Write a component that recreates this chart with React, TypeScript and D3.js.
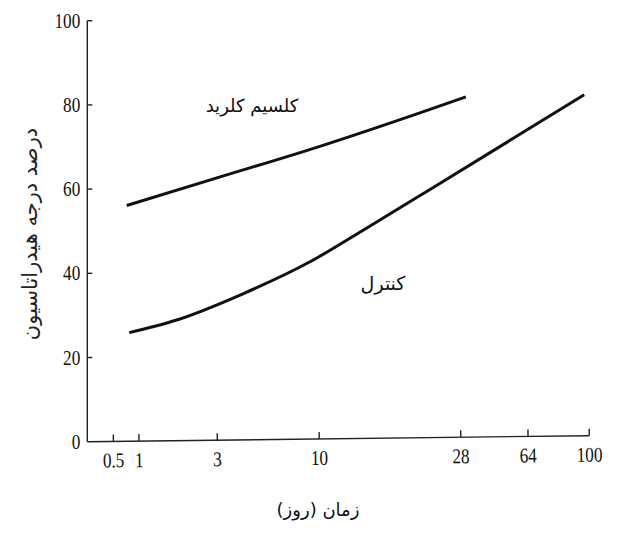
import React from "react";
import * as d3 from "d3";

// tick labels of the (irregular) time axis, in days
const dayTicks = [0.5, 1, 3, 10, 28, 64, 100];
// where each tick sits along the axis, as a share of its length (hand drawn axis)
const dayTickPos = [0.052, 0.103, 0.259, 0.462, 0.744, 0.878, 1];
const percentTicks = [0, 20, 40, 60, 80, 100];

// calcium chloride series
const calciumDays = [0.76, 3.2, 10, 22.8, 30.7];
const calciumValues = [56.1, 62.9, 70.1, 78.1, 81.9];

// control series
const controlDays = [0.81, 1.96, 4.8, 9.4, 16, 24.5, 52.6, 97];
const controlValues = [25.9, 28.9, 35.2, 42.8, 50.7, 60.4, 71.1, 82.4];

const W = 628;
const H = 534;
const left = 87.3;
const right = 589.3;
const top = 20.7;
const bottom = 441.7;

const serif = "'Liberation Serif', 'Times New Roman', serif";
const persian = "'DejaVu Sans', 'Noto Sans', sans-serif";

// narrow serif numbers like the scanned figure
function Num({ x, y, anchor, children }: { x: number; y: number; anchor: string; children: React.ReactNode }) {
  return (
    <text
      transform={`translate(${x}, ${y}) scale(0.82, 1)`}
      textAnchor={anchor}
      fontFamily={serif}
      fontSize={21}
      fill="#111"
    >
      {children}
    </text>
  );
}

export default function App() {
  const x = d3
    .scaleLinear()
    .domain(dayTicks)
    .range(dayTickPos.map((p) => left + p * (right - left)));
  const y = d3.scaleLinear().domain([0, 100]).range([bottom, top]);

  const line = d3
    .line<[number, number]>()
    .x((d) => x(d[0]))
    .y((d) => y(d[1]))
    .curve(d3.curveMonotoneX);

  const calcium = calciumDays.map((d, i) => [d, calciumValues[i]] as [number, number]);
  const control = controlDays.map((d, i) => [d, controlValues[i]] as [number, number]);

  // the x axis in the scan is slightly tilted
  const tilt = (Math.atan2(-6, right - left) * 180) / Math.PI;

  return (
    <svg
      width={W}
      height={H}
      viewBox={`0 0 ${W} ${H}`}
      style={{ position: "absolute", left: 0, top: 0, background: "#fff" }}
    >
      {/* y axis */}
      <g>
        <line x1={left} x2={left} y1={top} y2={bottom} stroke="#222" strokeWidth={1.4} />
        {percentTicks.map((t) => (
          <g key={t}>
            {t > 0 && (
              <line x1={left} x2={left + 5} y1={y(t)} y2={y(t)} stroke="#222" strokeWidth={1.4} />
            )}
            <Num x={left - 7} y={y(t) + 7} anchor="end">
              {t}
            </Num>
          </g>
        ))}
      </g>

      {/* x axis */}
      <g transform={`rotate(${tilt}, ${left}, ${bottom})`}>
        <line x1={left} x2={right} y1={bottom} y2={bottom} stroke="#222" strokeWidth={1.4} />
        {dayTicks.map((t) => (
          <g key={t}>
            <line x1={x(t)} x2={x(t)} y1={bottom} y2={bottom - 7} stroke="#222" strokeWidth={1.4} />
            <Num x={x(t)} y={bottom + 26} anchor="middle">
              {t}
            </Num>
          </g>
        ))}
      </g>

      {/* curves */}
      <path d={line(calcium) || ""} fill="none" stroke="#111" strokeWidth={3} />
      <path d={line(control) || ""} fill="none" stroke="#111" strokeWidth={3} />

      {/* labels */}
      <text x={252} y={112} textAnchor="middle" direction="rtl" fontFamily={persian} fontSize={18} fill="#111">
        کلسیم کلرید
      </text>
      <text x={383} y={290} textAnchor="middle" direction="rtl" fontFamily={persian} fontSize={19} fill="#111">
        کنترل
      </text>
      <text x={318} y={516} textAnchor="middle" direction="rtl" fontFamily={persian} fontSize={18} fill="#111">
        زمان (روز)
      </text>
      <text
        transform="translate(30, 234) rotate(-90)"
        textAnchor="middle"
        direction="rtl"
        dy="0.35em"
        fontFamily={persian}
        fontSize={21}
        fill="#222"
      >
        درصد درجه هیدراتاسیون
      </text>
    </svg>
  );
}
